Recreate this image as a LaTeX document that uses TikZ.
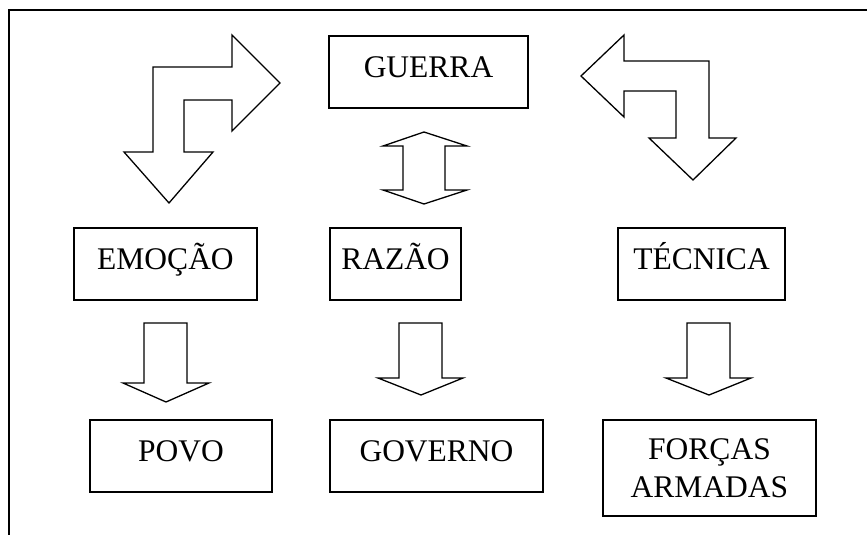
\documentclass[tikz,border=0pt]{standalone}
\usepackage{fontspec}
\setmainfont{Liberation Serif}
\begin{document}
\begin{tikzpicture}[x=1pt,y=-1pt,
  line join=miter,
  box/.style={draw, line width=1.5pt, inner sep=0pt,
    minimum height=72pt, font=\fontsize{31.5}{38}\selectfont},
  oneline/.style={box, text height=20pt, text depth=9pt},
  blockarrow/.style={draw, line width=1.3pt, fill=white}]
\useasboundingbox (0,0) rectangle (867,535);

% open frame: top and left edges only
\draw[line width=1.5pt] (867,10) -- (9,10) -- (9,535);

% concept boxes
\node[oneline, minimum width=199pt] (guerra)  at (428.5,72)  {GUERRA};
\node[oneline, minimum width=183pt] (emocao)  at (165.5,264) {EMOÇÃO};
\node[oneline, minimum width=131pt] (razao)   at (395.5,264) {RAZÃO};
\node[oneline, minimum width=167pt] (tecnica) at (701.5,264) {TÉCNICA};
\node[oneline, minimum width=182pt] (povo)    at (181,456)   {POVO};
\node[oneline, minimum width=213pt] (governo) at (436.5,456) {GOVERNO};
\node[box, align=center, minimum width=213pt, minimum height=96pt] (forcas)
  at (709.5,468) {FORÇAS\\ARMADAS};

% bent arrow: right towards GUERRA, down towards EMOÇÃO
\draw[blockarrow] (153,67) -- (232,67) -- (232,35) -- (280,83) -- (232,131)
  -- (232,100) -- (184,100) -- (184,152) -- (213,152) -- (169,203)
  -- (124,152) -- (153,152) -- cycle;

% bent arrow: left towards GUERRA, down towards TÉCNICA
\draw[blockarrow] (581,76) -- (624,35) -- (624,61) -- (709,61) -- (709,138)
  -- (736,138) -- (693,180) -- (649,138) -- (676,138) -- (676,91)
  -- (624,91) -- (624,117) -- cycle;

% two-way arrow between GUERRA and RAZÃO
\draw[blockarrow] (424,132) -- (467,146) -- (445,146) -- (445,190) -- (467,190)
  -- (424,204) -- (383,190) -- (403,190) -- (403,146) -- (383,146) -- cycle;

% downward arrows to the bottom row
\draw[blockarrow] (144,323) -- (187,323) -- (187,383) -- (209,383) -- (166,402)
  -- (123,383) -- (144,383) -- cycle;
\draw[blockarrow] (399,323) -- (442,323) -- (442,378) -- (463,378) -- (421,395)
  -- (378,378) -- (399,378) -- cycle;
\draw[blockarrow] (687,323) -- (730,323) -- (730,378) -- (751,378) -- (709,395)
  -- (666,378) -- (687,378) -- cycle;
\end{tikzpicture}
\end{document}
